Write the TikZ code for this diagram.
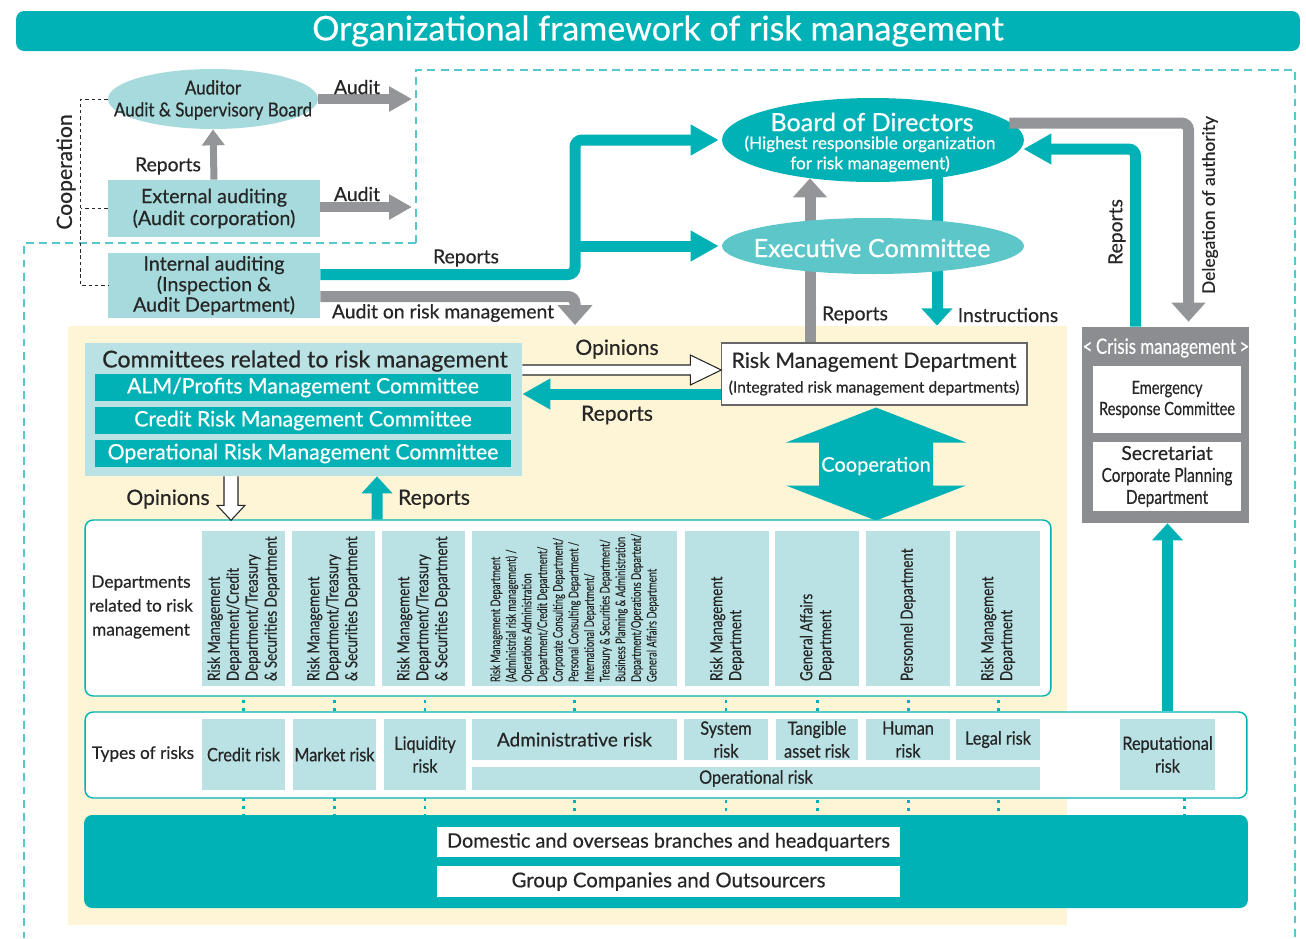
\documentclass[tikz,border=0pt]{standalone}
\usepackage{fontspec}
\setmainfont{Lato}[FakeBold=0.5]
\newfontfamily\semifont[FakeStretch=0.88, FakeBold=0.5]{Lato}
\newfontfamily\condfont[FakeStretch=0.8, FakeBold=0.4]{Lato}
\newfontfamily\narrowfont[FakeStretch=0.7, FakeBold=0.3]{Lato}
\usetikzlibrary{arrows.meta,calc,shapes.geometric,backgrounds}

\definecolor{tealmain}{RGB}{0,177,181}
\definecolor{tealsoft}{RGB}{92,198,200}
\definecolor{tealpale}{RGB}{186,226,228}
\definecolor{auditfill}{RGB}{166,218,220}
\definecolor{tealdash}{RGB}{84,200,204}
\definecolor{arrowgrey}{RGB}{148,149,153}
\definecolor{crisisgrey}{RGB}{140,141,144}
\definecolor{cream}{RGB}{253,245,214}
\definecolor{ink}{RGB}{38,38,38}

\newcommand{\fsz}[2]{\fontsize{#1}{#2}\selectfont}

\tikzset{
  auditbox/.style={rectangle, fill=auditfill, inner sep=0pt, align=center},
  combar/.style={rectangle, fill=tealmain, text=white, inner sep=0pt, minimum width=8.32cm, minimum height=0.54cm, font=\fsz{12.1}{14}},
  deptcol/.style={rectangle, fill=tealpale, minimum height=3.1cm, inner sep=0pt},
  depttext/.style={rotate=90, anchor=west, align=left, inner sep=0pt, font=\condfont\fsz{9.5}{10.8}},
  riskbox/.style={rectangle, fill=tealpale, inner sep=0pt, align=center, font=\semifont\fsz{10.5}{13}},
  whitebox/.style={rectangle, fill=white, inner sep=0pt, align=center},
  panel/.style={rectangle, rounded corners=0.16cm, draw=tealmain, line width=0.8pt, fill=white, inner sep=0pt},
  biglbl/.style={font=\fsz{12}{14}},
  greyarrow/.style={draw=arrowgrey, line width=0.2cm, -{Triangle[length=0.46cm, width=0.48cm]}},
  greythin/.style={draw=arrowgrey, line width=0.14cm, -{Triangle[length=0.32cm, width=0.44cm]}},
  greybent/.style={draw=arrowgrey, line width=0.22cm, rounded corners=0.14cm, -{Triangle[length=0.38cm, width=0.66cm]}},
  tealbent/.style={draw=tealmain, line width=0.22cm, rounded corners=0.14cm, -{Triangle[length=0.56cm, width=0.58cm]}},
  tealshort/.style={draw=tealmain, line width=0.22cm, -{Triangle[length=0.34cm, width=0.6cm]}},
  hollow/.style={fill=white, draw=ink, line width=0.6pt},
  coopdash/.style={draw=ink, line width=0.5pt, dash pattern=on 2pt off 1.6pt},
  outline/.style={draw=tealdash, line width=0.7pt, dash pattern=on 4.5pt off 3pt},
  dotline/.style={draw=tealmain, line width=1.7pt, dash pattern=on 1.7pt off 2.8pt}
}

\begin{document}
\begin{tikzpicture}[x=0.02cm, y=-0.02cm, font=\fsz{11}{13}, text=ink]
\useasboundingbox (0,0) rectangle (1306,938);

% title
\node[fill=tealmain, rounded corners=0.16cm, minimum width=25.68cm, minimum height=0.8cm, inner sep=0pt, text=white, font=\fsz{19.4}{22}] (title) at (658,31) {Organizational framework of risk management};

% auditing
\node[ellipse, fill=auditfill, minimum width=4.2cm, minimum height=1.2cm, inner sep=0pt] (aud) at (213,99) {};
\node[align=center, inner sep=0pt, font=\semifont\fsz{11}{12.5}] (audtxt) at (213,100) {Auditor\\Audit \& Supervisory Board};
\node[auditbox, minimum width=4.24cm, minimum height=1.14cm, font=\fsz{11.2}{12.5}] (ext) at (214,208.5) {External auditing\\(Audit corporation)};
\node[auditbox, minimum width=4.24cm, minimum height=1.3cm, font=\fsz{11.2}{10.5}] (int) at (214,285.5) {Internal auditing\\(Inspection \&\\Audit Department)};

\coordinate (audit1) at (412,99);
\coordinate (audit2) at (412,207);
\draw[greyarrow] (aud.east) -- (audit1);
\draw[greyarrow] (ext.east |- audit2) -- (audit2);
\draw[greythin] (ext.north) -- (aud.south);
\draw[coopdash] (aud.west) -- ++(-27,0) |- (int.west);
\draw[coopdash] (ext.west) -- ++(-27,0);

% board and committees
\node[ellipse, fill=tealmain, minimum width=6.04cm, minimum height=1.68cm, inner sep=0pt] (bod) at (873,140) {};
\node[text=white, inner sep=0pt, font=\fsz{14.3}{17}] (bodtitle) at (872,122) {Board of Directors};
\node[text=white, inner sep=0pt, align=center, font=\fsz{9.8}{11.5}] (bodsub) at (870,154) {(Highest responsible organization\\for risk management)};

\node[whitebox, draw=ink!70, line width=0.6pt, minimum width=6.12cm, minimum height=1.24cm] (rmd) at (874,374) {};
\node[inner sep=0pt, font=\fsz{12.1}{14}] (rmdtitle) at (874,362) {Risk Management Department};
\node[inner sep=0pt, font=\fsz{8.9}{11}] (rmdsub) at (874,388) {(Integrated risk management departments)};

% crisis management
\node[fill=crisisgrey, minimum width=3.34cm, minimum height=3.92cm, inner sep=0pt] (crisis) at (1165.5,425) {};
\node[text=white, inner sep=0pt, font=\condfont\fsz{12}{14}] (crisistitle) at (1166,348) {<\,Crisis management\,>};
\node[whitebox, minimum width=2.96cm, minimum height=1.34cm, font=\condfont\fsz{10.4}{12}] (erc) at (1167,399.5) {Emergency\\Response Committee};
\node[whitebox, minimum width=2.96cm, minimum height=1.38cm, font=\condfont\fsz{11}{12.5}] (secr) at (1167,476.5) {{\fontspec{Lato}[FakeBold=0.5]Secretariat}\\Corporate Planning\\Department};

\draw[greybent] ($(rmd.north)+(-64,0)$) -- ($(bod.south)+(-63,-4)$);
\draw[tealshort] ($(bod.south)+(64,-6)$) -- ($(rmd.north)+(63,-17)$);

\node[ellipse, fill=tealsoft, minimum width=6.04cm, minimum height=1.12cm, inner sep=0pt] (exec) at (873,246) {};
\node[text=white, inner sep=0pt, font=\fsz{14.4}{17}] (exectxt) at (872,248) {Executive Committee};

\coordinate (split) at (575,246);
\coordinate (riskin) at (575,325);
\draw[tealbent] ($(int.east)+(0,-11)$) -| (split) |- ($(bod.west)+(-3,0)$);
\draw[tealbent] (split) -- ($(exec.west)+(-3,0)$);
\draw[greybent, -{Triangle[length=0.4cm, width=0.68cm]}] ($(int.east)+(0,11)$) -| (riskin);

\draw[greybent] ($(bod.east)+(-15,-17)$) -| ($(crisis.north)+(23,-5)$);
\draw[tealbent] ($(crisis.north)+(-30,0)$) |- ($(bod.east)+(-1,9)$);

% committees related to risk management
\node[rectangle, fill=tealpale, minimum width=8.74cm, minimum height=2.66cm, inner sep=0pt] (comm) at (303.5,409.5) {};
\node[inner sep=0pt, font=\fsz{13.2}{15}] (commtitle) at (305,361) {Committees related to risk management};
\node[combar] (alm) at (303,387.5) {ALM/Profits Management Committee};
\node[combar] (crc) at (303,420.5) {Credit Risk Management Committee};
\node[combar] (orc) at (303,453.5) {Operational Risk Management Committee};

\draw[hollow] ($(comm.east)+(0,-44.5)$) -- ++(168,0) -- ++(0,-10) -- ++(31,15) -- ++(-31,15) -- ++(0,-10) -- ++(-168,0);
\draw[tealbent] ($(rmd.west)+(0,20)$) -- ($(comm.east)+(0,-15.5)$);

% cooperation
\fill[tealmain] ($(rmd.south)+(2,2)$) -- ++(90,35) -- ++(-33,0) -- ++(0,43) -- ++(33,0) -- ++(-90,35) -- ++(-90,-35) -- ++(33,0) -- ++(0,-43) -- ++(-33,0) -- cycle;
\node[text=white, inner sep=0pt, font=\fsz{11.4}{15}] (cooptxt) at (876,466) {Cooperation};

% departments related to risk management
\node[panel, minimum width=19.32cm, minimum height=3.52cm] (dept) at (568,608) {};
\node[align=center, inner sep=0pt, font=\fsz{9.8}{13.6}] (deptlbl) at (141,607) {Departments\\related to risk\\management};
\draw[hollow] ($(comm.south)+(-79.5,0)$) -- ++(0,29) -- ++(-7,0) -- ++(14,15) -- ++(14,-15) -- ++(-7,0) -- ++(0,-29);
\draw[tealshort] ($(dept.north)+(-191,0)$) -- ($(comm.south)+(73.5,0)$);

\node[deptcol, minimum width=1.66cm] (c1) at (243.5,608.5) {};
\node[deptcol, minimum width=1.66cm] (c2) at (333.5,608.5) {};
\node[deptcol, minimum width=1.66cm] (c3) at (423.5,608.5) {};
\node[deptcol, minimum width=4.1cm] (c4) at (574.5,608.5) {};
\node[deptcol, minimum width=1.68cm] (c5) at (727,608.5) {};
\node[deptcol, minimum width=1.68cm] (c6) at (817,608.5) {};
\node[deptcol, minimum width=1.68cm] (c7) at (908,608.5) {};
\node[deptcol, minimum width=1.68cm] (c8) at (998,608.5) {};
\node[depttext] (t1) at ($(c1.south)+(0,-5)$) {Risk Management\\Department/Credit\\Department/Treasury\\\& Securities Department};
\node[depttext] (t2) at ($(c2.south)+(0,-5)$) {Risk Management\\Department/Treasury\\\& Securities Department};
\node[depttext] (t3) at ($(c3.south)+(0,-5)$) {Risk Management\\Department/Treasury\\\& Securities Department};
\node[depttext, font=\narrowfont\fsz{7.6}{8.9}] (t4) at ($(c4.south)+(0,-4)$) {Risk Management Department\\(Administrial risk management) /\\Operations Administration\\Department/Credit Department/\\Corporate Consulting Department/\\Personal Consulting Department /\\International Department/\\Treasury \& Securities Department/\\Business Planning \& Administration\\Department/Operations Departent/\\General Affairs Department};
\node[depttext] (t5) at ($(c5.south)+(0,-5)$) {Risk Management\\Department};
\node[depttext] (t6) at ($(c6.south)+(0,-5)$) {General Affairs\\Department};
\node[depttext] (t7) at ($(c7.south)+(0,-5)$) {Personnel Department};
\node[depttext] (t8) at ($(c8.south)+(0,-5)$) {Risk Management\\Department};

% types of risks
\node[panel, minimum width=23.24cm, minimum height=1.72cm] (types) at (666,755) {};
\node[inner sep=0pt, font=\fsz{9.8}{13}] (typeslbl) at (143,754) {Types of risks};
\node[riskbox, minimum width=1.66cm, minimum height=1.42cm] (cr) at (243.5,754.5) {Credit risk};
\node[riskbox, minimum width=1.66cm, minimum height=1.42cm] (mk) at (334.5,754.5) {Market risk};
\node[riskbox, minimum width=1.64cm, minimum height=1.42cm] (lq) at (425,754.5) {Liquidity\\risk};
\node[riskbox, minimum width=4.1cm, minimum height=0.82cm, font=\fsz{10.8}{13}] (adm) at (574.5,739.5) {Administrative risk};
\node[riskbox, minimum width=1.68cm, minimum height=0.82cm] (sys) at (726,739.5) {System\\risk};
\node[riskbox, minimum width=1.64cm, minimum height=0.82cm] (tan) at (817,739.5) {Tangible\\asset risk};
\node[riskbox, minimum width=1.68cm, minimum height=0.82cm] (hum) at (908,739.5) {Human\\risk};
\node[riskbox, minimum width=1.68cm, minimum height=0.82cm] (leg) at (998,739.5) {Legal risk};
\node[riskbox, minimum width=11.36cm, minimum height=0.46cm] (oper) at (756,778.5) {Operational risk};
\node[riskbox, minimum width=1.9cm, minimum height=1.42cm] (rep) at (1167.5,754.5) {Reputational\\risk};
\draw[tealshort] (rep.north |- types.north) -- (rep.north |- crisis.south);

% branches and group companies
\node[fill=tealmain, rounded corners=0.16cm, minimum width=23.28cm, minimum height=1.86cm, inner sep=0pt] (base) at (666,861.5) {};
\node[whitebox, minimum width=9.26cm, minimum height=0.6cm, font=\fsz{11.3}{13}] (dom) at (668.5,842) {Domestic and overseas branches and headquarters};
\node[whitebox, minimum width=9.26cm, minimum height=0.62cm, font=\fsz{11.6}{13}] (grp) at (668.5,881.5) {Group Companies and Outsourcers};

% labels
\node (lbAudit1) at (357,87) {Audit};
\node (lbAudit2) at (357,194) {Audit};
\node (lbRepExt) at (168,166) {Reports};
\node[rotate=90, font=\fsz{12}{14}] (lbCoop) at (66,172) {Cooperation};
\node (lbRepInt) at (466,258) {Reports};
\node (lbAuditRisk) at (443,313) {Audit on risk management};
\node (lbRepBod) at (855,315) {Reports};
\node (lbInstr) at (1008,315) {Instructions};
\node[rotate=90] (lbRepCrisis) at (1117,232) {Reports};
\node[rotate=90, font=\fsz{9.9}{12}] (lbDeleg) at (1210,205) {Delegation of authority};
\node[biglbl] (lbOpin1) at (617,349) {Opinions};
\node[biglbl] (lbRep2) at (617,415) {Reports};
\node[biglbl] (lbOpin2) at (168,499) {Opinions};
\node[biglbl] (lbRep3) at (434,499) {Reports};

\begin{scope}[on background layer]
  \fill[cream] (68,326) rectangle (1067,925);
  \draw[outline] (416,243) -- (416,70) -- (1295,70) -- (1295,938);
  \draw[outline] (416,243) -- (24,243) -- (24,938);
  \foreach \col/\risk in {c1/cr, c2/mk, c3/lq, c4/adm, c5/sys, c6/tan, c7/hum, c8/leg}
    \draw[dotline] (\risk.north) -- (\risk.north |- \col.south);
  \foreach \risk in {cr, mk, lq, adm, sys, tan, hum, leg}
    \draw[dotline] (\risk.south) -- (\risk.south |- base.north);
  \coordinate (repdot) at ($(rep.south)+(17,0)$);
  \draw[dotline] (repdot) -- (repdot |- base.north);
\end{scope}
\end{tikzpicture}
\end{document}
